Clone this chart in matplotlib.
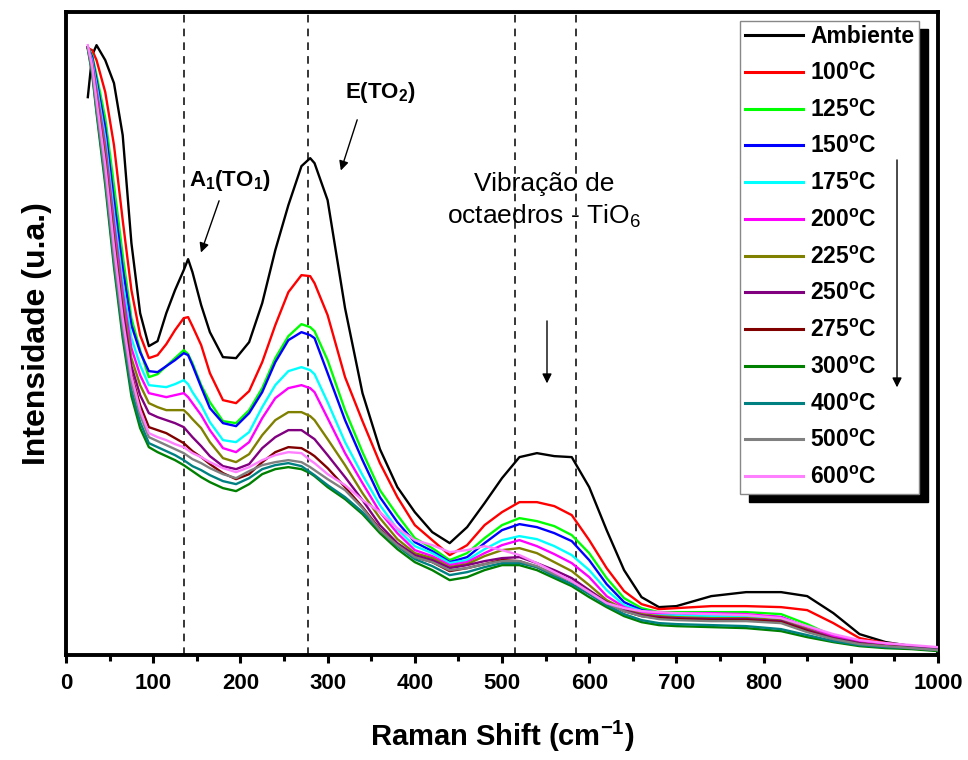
import numpy as np
import matplotlib
matplotlib.use("Agg")
import matplotlib.pyplot as plt
from matplotlib.patches import Rectangle

# Raman shift grid (cm^-1)
raman_shift = [25, 30, 35, 45, 55, 65, 75, 85,
               95, 105, 115, 125, 135, 140, 145, 155, 165,
               180, 195, 210, 225, 240, 255, 270, 280, 285,
               300, 320, 340, 360, 380, 400, 420, 440, 460, 480,
               500, 520, 540, 560, 580, 600, 620, 640, 660, 680,
               700, 740, 780, 820, 850, 880, 910, 940, 970, 1000]

# Intensities (arbitrary units)
ambiente = [558, 600, 610, 595, 572, 520, 412, 342, 309, 314, 342, 365, 385, 396, 383, 350, 323,
            298, 297, 313, 352, 405, 450, 489, 497, 492, 455, 347, 262, 206, 168, 143, 123, 112, 128, 152,
            177, 198, 202, 199, 198, 168, 125, 85, 58, 48, 49, 59, 63, 63, 59, 42, 21, 13, 9, 7]
t100 = [607, 605, 595, 563, 510, 435, 365, 320, 297, 300, 311, 325, 337, 338, 329, 310, 282,
        255, 252, 264, 293, 330, 363, 380, 379, 372, 340, 278, 234, 192, 158, 130, 115, 100, 110, 130,
        143, 153, 153, 149, 140, 115, 87, 64, 51, 46, 47, 49, 49, 48, 45, 32, 17, 12, 9, 7]
t125 = [608, 600, 580, 537, 470, 400, 337, 305, 278, 281, 289, 297, 305, 301, 292, 270, 253,
        234, 232, 245, 267, 297, 319, 331, 328, 324, 295, 245, 203, 165, 140, 117, 107, 95, 102, 117,
        130, 137, 134, 129, 120, 102, 77, 57, 47, 43, 43, 43, 43, 41, 31, 19, 13, 10, 8, 6]
t150 = [608, 598, 575, 527, 455, 387, 330, 303, 284, 283, 289, 295, 302, 300, 290, 268, 247,
        232, 229, 242, 263, 293, 315, 323, 320, 317, 282, 235, 195, 158, 133, 113, 104, 93, 98, 112,
        125, 131, 128, 122, 114, 95, 71, 53, 45, 42, 41, 40, 40, 38, 28, 18, 12, 10, 8, 6]
t175 = [608, 595, 570, 517, 442, 373, 317, 290, 270, 269, 268, 271, 275, 271, 263, 250, 233,
        215, 213, 223, 248, 270, 284, 288, 285, 281, 253, 213, 180, 150, 126, 109, 102, 92, 95, 106,
        115, 119, 116, 109, 100, 85, 65, 50, 44, 41, 40, 39, 39, 37, 27, 17, 12, 10, 8, 6]
t200 = [608, 593, 565, 510, 433, 363, 307, 280, 262, 260, 258, 260, 262, 258, 252, 240, 225,
        207, 203, 213, 237, 257, 267, 270, 267, 263, 237, 202, 172, 143, 122, 105, 99, 90, 93, 102,
        110, 115, 109, 101, 92, 78, 59, 48, 43, 42, 42, 42, 41, 38, 28, 19, 14, 11, 9, 7]
t225 = [608, 591, 561, 503, 423, 353, 297, 270, 252, 248, 245, 245, 245, 241, 236, 227, 213,
        197, 193, 201, 220, 235, 243, 243, 239, 235, 216, 190, 162, 137, 116, 102, 97, 88, 91, 99,
        105, 107, 102, 93, 84, 70, 55, 46, 41, 39, 38, 37, 37, 35, 26, 17, 12, 9, 8, 6]
t250 = [608, 589, 557, 495, 415, 345, 289, 260, 242, 238, 235, 232, 228, 223, 218, 209, 199,
        189, 186, 191, 207, 218, 225, 225, 219, 216, 200, 178, 155, 130, 112, 100, 95, 87, 90, 94,
        97, 98, 92, 85, 77, 65, 53, 45, 40, 38, 37, 36, 36, 34, 25, 17, 12, 9, 8, 6]
t275 = [608, 587, 553, 487, 407, 337, 281, 250, 228, 225, 222, 217, 212, 208, 204, 198, 191,
        182, 176, 181, 193, 203, 208, 207, 202, 199, 187, 168, 148, 126, 110, 98, 93, 84, 87, 91,
        95, 94, 88, 81, 74, 63, 52, 44, 39, 37, 36, 35, 35, 33, 24, 16, 11, 9, 7, 5]
t300 = [606, 581, 542, 470, 388, 317, 259, 227, 208, 203, 199, 195, 190, 187, 184, 178, 173,
        167, 164, 171, 181, 186, 188, 186, 182, 179, 168, 156, 141, 122, 106, 93, 85, 75, 78, 85,
        90, 90, 85, 77, 69, 58, 48, 39, 33, 30, 29, 28, 27, 24, 18, 13, 9, 7, 6, 4]
t400 = [607, 583, 545, 475, 393, 323, 265, 233, 212, 208, 204, 200, 195, 192, 189, 185, 180,
        174, 171, 177, 186, 190, 192, 189, 183, 180, 170, 158, 143, 125, 109, 96, 89, 80, 83, 88,
        92, 92, 88, 79, 71, 61, 50, 41, 35, 32, 31, 30, 29, 26, 20, 14, 10, 8, 7, 5]
t500 = [608, 585, 549, 480, 399, 329, 273, 240, 218, 214, 210, 206, 202, 199, 196, 192, 187,
        181, 177, 184, 190, 193, 195, 193, 188, 185, 176, 165, 147, 125, 110, 98, 93, 85, 87, 91,
        94, 94, 89, 81, 74, 63, 52, 44, 39, 36, 35, 34, 34, 32, 23, 16, 11, 9, 7, 5]
t600 = [610, 589, 555, 490, 409, 337, 279, 245, 222, 218, 215, 211, 208, 205, 202, 198, 193,
        187, 183, 188, 195, 200, 203, 202, 195, 192, 181, 170, 155, 143, 127, 115, 110, 103, 105, 109,
        105, 100, 92, 83, 74, 63, 52, 47, 44, 43, 42, 41, 40, 37, 29, 21, 15, 12, 10, 8]

series = [ambiente, t100, t125, t150, t175, t200, t225, t250, t275, t300, t400, t500, t600]
labels = ["Ambiente", "100$^{\\mathbf{o}}$C", "125$^{\\mathbf{o}}$C", "150$^{\\mathbf{o}}$C",
          "175$^{\\mathbf{o}}$C", "200$^{\\mathbf{o}}$C", "225$^{\\mathbf{o}}$C", "250$^{\\mathbf{o}}$C",
          "275$^{\\mathbf{o}}$C", "300$^{\\mathbf{o}}$C", "400$^{\\mathbf{o}}$C", "500$^{\\mathbf{o}}$C",
          "600$^{\\mathbf{o}}$C"]
colors = ["#000000", "#FF0000", "#00FF00", "#0000FF", "#00FFFF", "#FF00FF", "#808000",
          "#800080", "#800000", "#008000", "#008080", "#808080", "#FF80FF"]

mode_positions = [135, 277, 515, 585]

plt.rcParams['font.family'] = ['Liberation Sans', 'DejaVu Sans']
plt.rcParams['mathtext.fontset'] = 'custom'
plt.rcParams['mathtext.rm'] = 'Liberation Sans'
plt.rcParams['mathtext.bf'] = 'Liberation Sans:bold'

fig = plt.figure(figsize=(9.68, 7.6), dpi=100)
ax = fig.add_axes([0.0682, 0.138, 0.9008, 0.846])

for vals, lab, col in zip(series, labels, colors):
    ax.plot(raman_shift, vals, color=col, lw=1.7, label=lab, zorder=3)

for xv in mode_positions:
    ax.axvline(xv, color='black', lw=1.1, ls=(0, (5, 4)), zorder=2)

ax.set_xlim(0, 1000)
ax.set_ylim(0, 643)
ax.set_yticks([])
ax.set_xticks(np.arange(0, 1001, 100))
ax.set_xticks(np.arange(50, 1000, 100), minor=True)
ax.tick_params(axis='x', which='major', direction='out', length=6, width=2.2, pad=7)
ax.tick_params(axis='x', which='minor', direction='out', length=4, width=2.2)
for sp in ax.spines.values():
    sp.set_linewidth(2.8)

for t in ax.get_xticklabels():
    t.set_fontweight('bold')
    t.set_fontsize(16)

ax.set_xlabel("Raman Shift (cm$^{\\mathbf{-1}}$)", fontsize=21, fontweight='bold', labelpad=18)
ax.set_ylabel("Intensidade (u.a.)", fontsize=23, fontweight='bold', labelpad=10)

# annotations
ax.annotate("", xy=(153.7, 400), xytext=(176.6, 457),
            arrowprops=dict(arrowstyle='-|>', color='black', lw=1.0, mutation_scale=14))
ax.text(188, 475, "A$_{\\mathbf{1}}$(TO$_{\\mathbf{1}}$)", fontsize=16, fontweight='bold',
        ha='center', va='center')
ax.annotate("", xy=(314.2, 482), xytext=(334.9, 538),
            arrowprops=dict(arrowstyle='-|>', color='black', lw=1.0, mutation_scale=14))
ax.text(361, 563, "E(TO$_{\\mathbf{2}}$)", fontsize=16, fontweight='bold',
        ha='center', va='center')
ax.text(548, 454, "Vibração de\noctaedros - TiO$_6$", fontsize=19, ha='center', va='center',
        linespacing=1.3)
ax.annotate("", xy=(551.6, 269), xytext=(551.6, 337),
            arrowprops=dict(arrowstyle='-|>', color='black', lw=1.0, mutation_scale=14))

leg = ax.legend(loc='upper right', bbox_to_anchor=(0.978, 0.987),
                prop={'weight': 'bold', 'size': 16.5}, frameon=True, fancybox=False,
                framealpha=1.0, handlelength=2.55, handletextpad=0.3, borderpad=0.2,
                labelspacing=0.6, borderaxespad=0.0)
leg.get_frame().set_edgecolor('#888888')
leg.get_frame().set_linewidth(1.0)
leg.get_frame().set_facecolor('white')
leg.set_zorder(6)
for ln in leg.get_lines():
    ln.set_linewidth(2.2)

# legend arrow (decreasing trend)
ax.annotate("", xy=(953, 265), xytext=(953, 498),
            arrowprops=dict(arrowstyle='-|>', color='black', lw=1.0, mutation_scale=14),
            zorder=8)

fig.canvas.draw()
bb = leg.get_window_extent()
inv = fig.transFigure.inverted()
(x0, y0), (x1, y1) = inv.transform([(bb.x0, bb.y0), (bb.x1, bb.y1)])
dx, dy = 9 / 968, 8 / 760
shadow = Rectangle((x0 + dx, y0 - dy), x1 - x0, y1 - y0, transform=fig.transFigure,
                   facecolor='black', edgecolor='black', zorder=5)
ax.add_artist(shadow)
shadow.set_clip_on(False)

fig.savefig("out.png", dpi=100)
